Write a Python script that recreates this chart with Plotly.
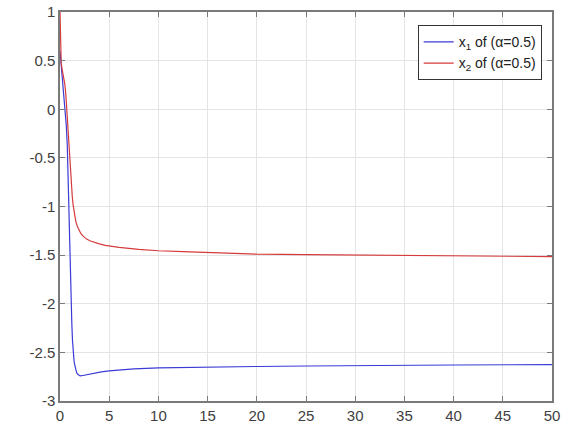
import plotly.graph_objects as go

# Blue series: x1 of (alpha=0.5)
x1_t = [0, 0.05, 0.1, 0.2, 0.33, 0.45, 0.54, 0.64, 0.74, 0.81, 0.88, 0.94, 1.0, 1.05, 1.1, 1.15,
        1.2, 1.27, 1.35, 1.43, 1.52, 1.6, 1.7, 1.8, 1.9, 2.05, 2.2, 2.45, 2.7, 3.1,
        3.5, 4.2, 5, 6, 7.5, 10, 12.5, 15, 20, 25, 30, 40, 50]
x1_v = [0.6, 0.54, 0.5, 0.43, 0.25, 0.12, 0.0, -0.17, -0.37, -0.68, -1.0, -1.25, -1.5, -1.72,
        -1.9, -2.06, -2.2, -2.38, -2.51, -2.59, -2.64, -2.68, -2.71, -2.725, -2.735, -2.742,
        -2.74, -2.735, -2.73, -2.72, -2.71, -2.70, -2.69, -2.68, -2.67, -2.66, -2.655, -2.65,
        -2.645, -2.64, -2.635, -2.63, -2.625]

# Red series: x2 of (alpha=0.5)
x2_t = [0, 0.02, 0.04, 0.07, 0.12, 0.2, 0.35, 0.5, 0.6, 0.68, 0.76, 0.85, 0.92, 0.98, 1.04, 1.1,
        1.17, 1.25, 1.33, 1.4, 1.5, 1.6, 1.75, 1.9, 2.1, 2.3, 2.7, 3.1, 3.5, 4.0,
        4.6, 6, 8, 10, 12.5, 15, 20, 25, 30, 40, 50]
x2_v = [1.0, 0.85, 0.7, 0.56, 0.48, 0.42, 0.34, 0.25, 0.14, 0.0, -0.1, -0.2, -0.3, -0.4, -0.52,
        -0.65, -0.78, -0.9, -0.98, -1.04, -1.1, -1.15, -1.2, -1.24, -1.275, -1.30, -1.335, -1.355,
        -1.37, -1.385, -1.40, -1.42, -1.44, -1.455, -1.465, -1.475, -1.49, -1.495, -1.50, -1.51,
        -1.515]

x_ticks = [0, 5, 10, 15, 20, 25, 30, 35, 40, 45, 50]
y_ticks = [1, 0.5, 0, -0.5, -1, -1.5, -2, -2.5, -3]
y_labels = ["1", "0.5", "0", "-0.5", "-1", "-1.5", "-2", "-2.5", "-3"]

fig = go.Figure()
fig.add_trace(go.Scatter(x=x1_t, y=x1_v, mode="lines", line=dict(color="#3b3bd6", width=1.2),
                         name="x<sub>1</sub> of (α=0.5)"))
fig.add_trace(go.Scatter(x=x2_t, y=x2_v, mode="lines", line=dict(color="#d63b3b", width=1.2),
                         name="x<sub>2</sub> of (α=0.5)"))

axis_common = dict(showline=True, linecolor="#7a7a7a", linewidth=1.5, mirror="ticks",
                   ticks="inside", ticklen=5, tickcolor="#7a7a7a", automargin=False,
                   showgrid=True, gridcolor="#e4e4e4", gridwidth=1, zeroline=False,
                   tickfont=dict(family="Liberation Sans, Arial", size=15, color="#404040"))

fig.update_xaxes(range=[0, 50], tickvals=x_ticks, **axis_common)
fig.update_yaxes(range=[-3, 1], tickvals=y_ticks, ticktext=y_labels, **axis_common)

fig.update_layout(
    width=563, height=447,
    margin=dict(l=60, r=11, t=12, b=46, autoexpand=False),
    paper_bgcolor="white", plot_bgcolor="white",
    showlegend=True,
    legend=dict(x=0.979, y=0.966, xanchor="right", yanchor="top",
                bgcolor="white", bordercolor="#333333", borderwidth=1,
                font=dict(family="Liberation Sans, Arial", size=14, color="#222222"),
                tracegroupgap=0, itemwidth=30),
)

fig.write_html("out.html")
